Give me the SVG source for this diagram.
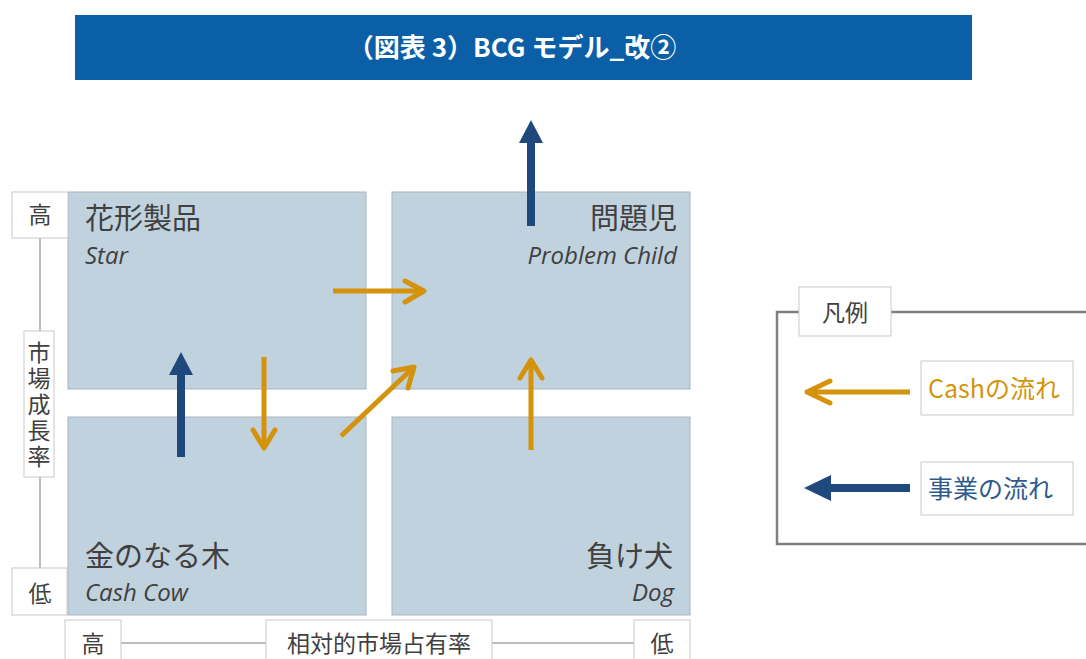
<svg xmlns="http://www.w3.org/2000/svg" width="1086" height="659" viewBox="0 0 1086 659">
<style>
.q{fill:#C0D2DE;stroke:#A8B4BD;stroke-width:1}
.lb{fill:#FFFFFF;stroke:#C9C9C9;stroke-width:1}
.ax{stroke:#A6A6A6;stroke-width:1.5;fill:none}
.jp{font-family:"Noto Sans CJK JP","Noto Sans",sans-serif;fill:#404040}
.t1{font-size:29px}
.en{font-family:"Open Sans","Noto Sans",sans-serif;font-style:italic;font-size:24px;fill:#404040}
.ax-t{font-family:"Noto Sans CJK JP",sans-serif;font-size:23px;fill:#404040;text-anchor:middle}
.cash{stroke:#D4930B;stroke-width:5;fill:none;stroke-linecap:butt}
.cashhead{stroke:#D4930B;stroke-width:5;fill:none;stroke-linecap:round;stroke-linejoin:round}
.biz{stroke:#1F497D;stroke-width:8;fill:none}
.bizhead{fill:#1F497D}
</style>
<rect x="0" y="0" width="1086" height="659" fill="#FFFFFF"/>
<g id="title">
<rect x="75" y="15" width="897" height="65" fill="#0B5FA6"/>
<text x="512" y="57" text-anchor="middle" font-family="Noto Sans CJK JP,sans-serif" font-weight="bold" font-size="26" fill="#FFFFFF">（図表 3）BCG モデル_改②</text>
</g>
<g id="star">
<rect class="q" x="68" y="192" width="298" height="197"/>
<text class="jp t1" x="85" y="229">花形製品</text>
<text class="en" x="85" y="264">Star</text>
</g>
<g id="problem-child">
<rect class="q" x="392" y="192" width="298" height="197"/>
<text class="jp t1" x="677" y="229" text-anchor="end">問題児</text>
<text class="en" x="677" y="264" text-anchor="end">Problem Child</text>
</g>
<g id="cash-cow">
<rect class="q" x="68" y="417" width="298" height="198"/>
<text class="jp t1" x="85" y="567">金のなる木</text>
<text class="en" x="85" y="601">Cash Cow</text>
</g>
<g id="dog">
<rect class="q" x="392" y="417" width="298" height="198"/>
<text class="jp t1" x="673" y="567" text-anchor="end">負け犬</text>
<text class="en" x="674" y="601" text-anchor="end">Dog</text>
</g>
<g id="y-axis">
<line class="ax" x1="40" y1="238" x2="40" y2="331"/>
<line class="ax" x1="40" y1="477" x2="40" y2="568"/>
<rect class="lb" x="12" y="192" width="56" height="46"/>
<text class="ax-t" x="40" y="223">高</text>
<rect class="lb" x="24" y="331" width="30" height="146"/>
<text x="39" y="341" font-family="Noto Sans CJK JP,sans-serif" font-size="23" fill="#404040" letter-spacing="3" style="writing-mode:vertical-rl">市場成長率</text>
<rect class="lb" x="12" y="568" width="55" height="47"/>
<text class="ax-t" x="40" y="602">低</text>
</g>
<g id="x-axis">
<line class="ax" x1="121" y1="643" x2="266" y2="643"/>
<line class="ax" x1="492" y1="643" x2="634" y2="643"/>
<rect class="lb" x="65" y="620" width="56" height="50"/>
<text class="ax-t" x="93" y="652">高</text>
<rect class="lb" x="266" y="620" width="226" height="50"/>
<text class="ax-t" x="379" y="652" font-size="24">相対的市場占有率</text>
<rect class="lb" x="634" y="620" width="56" height="50"/>
<text class="ax-t" x="662" y="652">低</text>
</g>
<g id="connectors">
<line class="biz" x1="181" y1="457" x2="181" y2="372"/>
<polygon class="bizhead" points="181,352 193,375 169,375"/>
<line class="biz" x1="531" y1="226" x2="531" y2="141"/>
<polygon class="bizhead" points="531,120 543,143 519,143"/>
<line class="cash" x1="264" y1="357" x2="264" y2="448"/>
<polyline class="cashhead" points="253,430 264,448 275,430"/>
<line class="cash" x1="333" y1="291" x2="424" y2="291"/>
<polyline class="cashhead" points="405,281 424,291 405,302"/>
<line class="cash" x1="341" y1="436" x2="414" y2="367"/>
<polyline class="cashhead" points="393,371 414,367 408,388"/>
<line class="cash" x1="531" y1="450" x2="531" y2="360"/>
<polyline class="cashhead" points="520,378 531,360 542,378"/>
</g>
<g id="legend">
<path d="M799,312 H777 V544 H1090 M891,312 H1090" stroke="#808080" stroke-width="2.5" fill="none"/>
<rect class="lb" x="799" y="287" width="92" height="49"/>
<text class="ax-t" x="845" y="321">凡例</text>
<line class="cash" x1="910" y1="392" x2="807" y2="392"/>
<polyline class="cashhead" points="830,381 807,392 830,403"/>
<rect class="lb" x="921" y="361" width="152" height="54"/>
<text x="928" y="398" font-family="Noto Sans CJK JP,sans-serif" font-size="25" fill="#D4930B">Cashの流れ</text>
<line class="biz" x1="910" y1="488" x2="828" y2="488"/>
<polygon class="bizhead" points="804,488 831,475 831,501"/>
<rect class="lb" x="921" y="462" width="152" height="53"/>
<text x="928" y="498" font-family="Noto Sans CJK JP,sans-serif" font-size="25" fill="#2F5A8C">事業の流れ</text>
</g>
</svg>
